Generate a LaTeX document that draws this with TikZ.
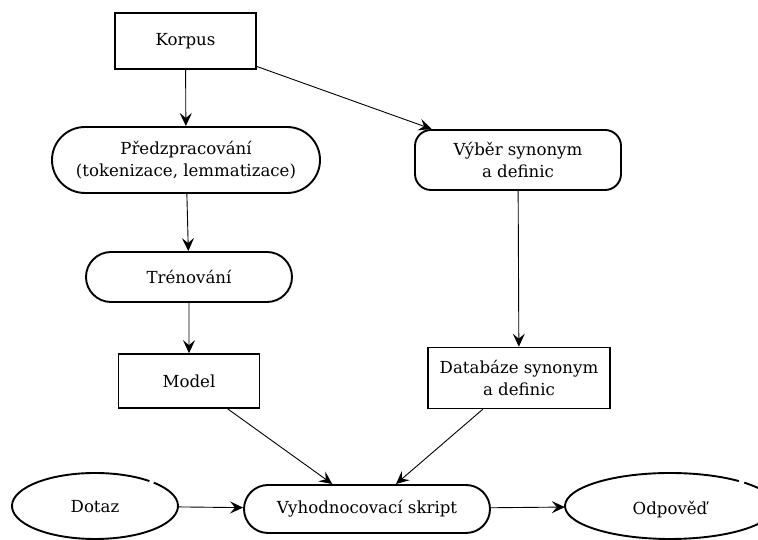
\documentclass[tikz,border=0pt]{standalone}
\usepackage{fontspec}
\setmainfont{DejaVu Serif}
\usetikzlibrary{shapes.misc,shapes.geometric,arrows.meta}
\begin{document}
\begin{tikzpicture}[x=1pt,y=1pt,
  every node/.style={font=\fontsize{16.6}{22}\selectfont, align=center, inner sep=0pt},
  plainbox/.style={draw, rectangle, line width=1.6pt},
  pillbox/.style={draw, rounded rectangle, line width=1.9pt},
  roundbox/.style={draw, rectangle, rounded corners=16pt, line width=1.9pt},
  ovalnode/.style={ellipse, text depth=0pt},
  flow/.style={line width=0.9pt, -{Stealth[length=13pt,width=12pt,inset=5pt]}}]
\useasboundingbox (0,0) rectangle (758,540);
\clip (0,0) rectangle (758,540);
\fill[white] (0,0) rectangle (758,540);

\node[plainbox, minimum width=141, minimum height=56] (korpus) at (185.5,499) {Korpus};
\node[pillbox, minimum width=268, minimum height=66] (pre) at (186,380)
  {Předzpracování\\(tokenizace, lemmatizace)};
\node[roundbox, minimum width=206, minimum height=60] (vyber) at (518,380)
  {Výběr synonym\\a definic};
\node[pillbox, minimum width=206, minimum height=50] (tren) at (189,263) {Trénování};
\node[plainbox, minimum width=141, minimum height=54] (model) at (189,159) {Model};
\node[plainbox, minimum width=182, minimum height=61] (db) at (519,162)
  {Databáze synonym\\a definic};
\node[ovalnode, text height=14pt, minimum width=166, minimum height=66] (dotaz) at (95,34) {Dotaz};
\node[pillbox, minimum width=246, minimum height=48] (vyh) at (367,31) {Vyhodnocovací skript};
\node[ovalnode, text height=18pt, minimum width=210, minimum height=66] (odp) at (670,34) {Odpověď};

% oval outlines, each with a small break at the upper right
\draw[line width=1.9pt] ([shift={(49:83 and 33)}]dotaz.center)
  arc[start angle=49, end angle=405, x radius=83, y radius=33];
\draw[line width=1.9pt] ([shift={(49:105 and 33)}]odp.center)
  arc[start angle=49, end angle=405, x radius=105, y radius=33];

\draw[flow] (korpus) -- (pre);
\draw[flow] (korpus) -- (vyber);
\draw[flow] (pre) -- (tren);
\draw[flow] (tren) -- (model);
\draw[flow] (vyber) -- (db);
\draw[flow] (model) -- (vyh);
\draw[flow] (db) -- (vyh);
\draw[flow] (dotaz) -- (vyh);
\draw[flow] (vyh) -- (odp);
\end{tikzpicture}
\end{document}
